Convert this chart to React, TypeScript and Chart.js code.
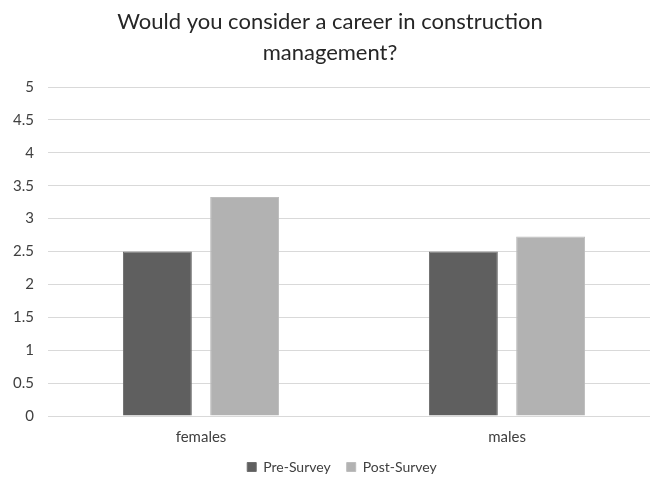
import React, { useEffect, useRef } from "react";
import { Chart, registerables } from "chart.js";

Chart.register(...registerables);

const categories = ["females", "males"];
const preSurvey = [2.5, 2.5];
const postSurvey = [3.33, 2.73];
const titleLines = ["Would you consider a career in construction", "management?"];

const legendShift = {
  id: "legendShift",
  afterLayout(chart: any) {
    if (chart.legend) {
      chart.legend.left += 12;
      chart.legend.right += 12;
    }
  },
};

export default function App() {
  const ref = useRef<HTMLCanvasElement | null>(null);
  useEffect(() => {
    if (!ref.current) return;
    const chart = new Chart(ref.current, {
      type: "bar",
      data: {
        labels: categories,
        datasets: [
          {
            label: "Pre-Survey",
            data: preSurvey,
            backgroundColor: "#5f5f5f",
            borderColor: "#6e6e6e",
            borderWidth: 1,
          },
          {
            label: "Post-Survey",
            data: postSurvey,
            backgroundColor: "#b2b2b2",
            borderColor: "#bdbdbd",
            borderWidth: 1,
          },
        ],
      },
      plugins: [legendShift],
      options: {
        responsive: false,
        animation: false,
        layout: { padding: { left: 0, right: 0, top: 0, bottom: 0 } },
        datasets: {
          bar: { categoryPercentage: 0.57, barPercentage: 0.79 },
        },
        plugins: {
          title: {
            display: true,
            text: titleLines,
            color: "#262626",
            font: { family: "Lato", size: 22, weight: "normal", lineHeight: 1.41 },
            padding: { top: 6, bottom: 19 },
          },
          legend: {
            position: "bottom",
            labels: {
              boxWidth: 9,
              boxHeight: 9,
              padding: 16,
              color: "#404040",
              font: { family: "Lato", size: 14 },
            },
          },
          tooltip: { enabled: false },
        },
        scales: {
          x: {
            grid: { display: false, drawTicks: false },
            border: { display: true, color: "#d9d9d9" },
            ticks: { color: "#404040", font: { family: "Lato", size: 15 }, padding: 12 },
            afterFit: (s: any) => {
              s.height = 28;
            },
          },
          y: {
            min: 0,
            max: 5,
            ticks: {
              stepSize: 0.5,
              color: "#404040",
              font: { family: "Lato", size: 15 },
              padding: 14,
              callback: (v: any) => String(Number(v)),
            },
            grid: { color: "#d9d9d9", drawTicks: false },
            border: { display: false },
            afterFit: (s: any) => {
              s.width = 48;
            },
          },
        },
      },
    });
    return () => chart.destroy();
  }, []);
  return (
    <div
      style={{
        position: "absolute",
        left: 0,
        top: 0,
        width: 650,
        height: 478,
        overflow: "hidden",
        background: "#fff",
      }}
    >
      <canvas ref={ref} width={660} height={484} style={{ display: "block" }} />
    </div>
  );
}
